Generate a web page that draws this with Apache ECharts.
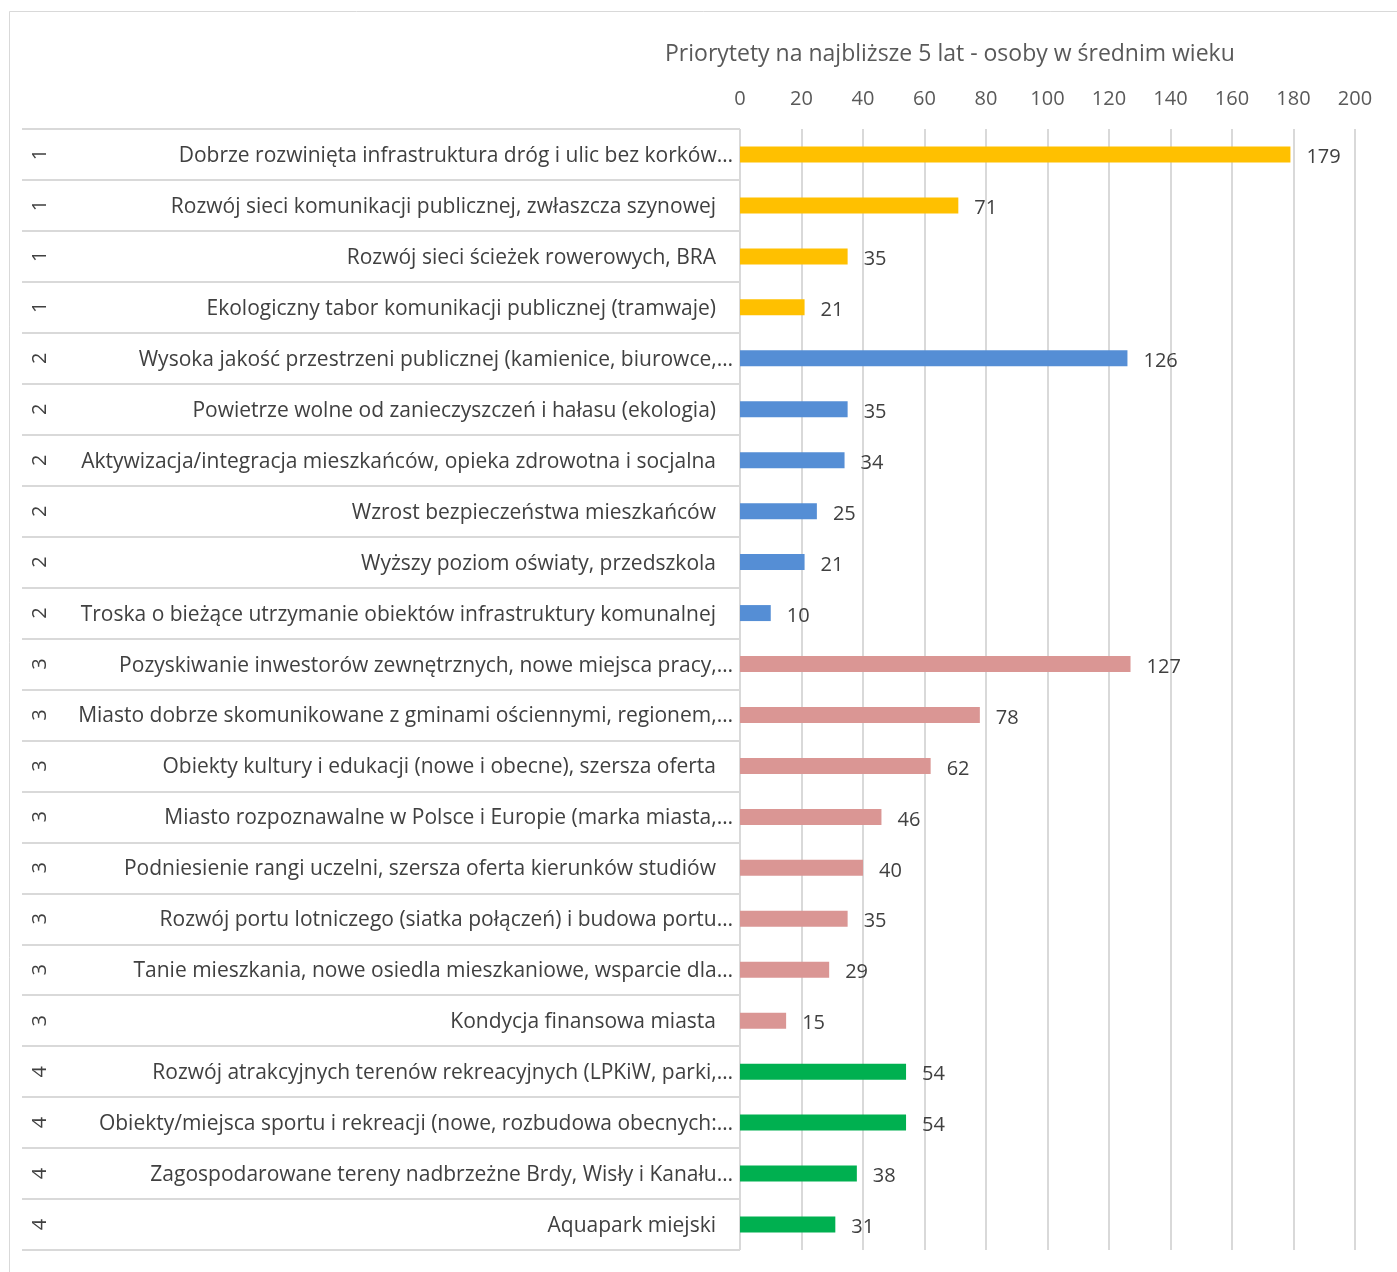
<!DOCTYPE html>
<html><head><meta charset="utf-8">
<script src="https://cdn.jsdelivr.net/npm/echarts@6/dist/echarts.min.js"></script>
<style>html,body{margin:0;padding:0;background:#fff}#c{width:1397px;height:1272px}</style>
</head><body><div id="c"></div>
<script>
const titleText = 'Priorytety na najbliższe 5 lat - osoby w średnim wieku';
const categories = [
  'Dobrze rozwinięta infrastruktura dróg i ulic bez korków…',
  'Rozwój sieci komunikacji publicznej, zwłaszcza szynowej',
  'Rozwój sieci ścieżek rowerowych, BRA',
  'Ekologiczny tabor komunikacji publicznej (tramwaje)',
  'Wysoka jakość przestrzeni publicznej (kamienice, biurowce,…',
  'Powietrze wolne od zanieczyszczeń i hałasu (ekologia)',
  'Aktywizacja/integracja mieszkańców, opieka zdrowotna i socjalna',
  'Wzrost bezpieczeństwa mieszkańców',
  'Wyższy poziom oświaty, przedszkola',
  'Troska o bieżące utrzymanie obiektów infrastruktury komunalnej',
  'Pozyskiwanie inwestorów zewnętrznych, nowe miejsca pracy,…',
  'Miasto dobrze skomunikowane z gminami ościennymi, regionem,…',
  'Obiekty kultury i edukacji (nowe i obecne), szersza oferta',
  'Miasto rozpoznawalne w Polsce i Europie (marka miasta,…',
  'Podniesienie rangi uczelni, szersza oferta kierunków studiów',
  'Rozwój portu lotniczego (siatka połączeń) i budowa portu…',
  'Tanie mieszkania, nowe osiedla mieszkaniowe, wsparcie dla…',
  'Kondycja finansowa miasta',
  'Rozwój atrakcyjnych terenów rekreacyjnych (LPKiW, parki,…',
  'Obiekty/miejsca sportu i rekreacji (nowe, rozbudowa obecnych:…',
  'Zagospodarowane tereny nadbrzeżne Brdy, Wisły i Kanału…',
  'Aquapark miejski'
];
const groups = ['1','1','1','1','2','2','2','2','2','2','3','3','3','3','3','3','3','3','4','4','4','4'];
const values = [179,71,35,21,126,35,34,25,21,10,127,78,62,46,40,35,29,15,54,54,38,31];
const xTicks = {min:0, max:200, interval:20};
const groupColors = {'1':'#FFC000','2':'#558ED5','3':'#DA9694','4':'#00B050'};

const FONT = 'Open Sans';
const chart = echarts.init(document.getElementById('c'));
chart.setOption({
  animation:false,
  backgroundColor:'#fff',
  textStyle:{fontFamily:FONT},
  graphic:[{type:'rect',shape:{x:9.5,y:11.5,width:1400,height:1280},style:{fill:'none',stroke:'#d9d9d9',lineWidth:1},silent:true}],
  title:{text:titleText,left:660,top:38,textStyle:{fontFamily:FONT,fontSize:23,fontWeight:'normal',color:'#595959'}},
  grid:[
    {left:740,right:42,top:129,bottom:22},
    {left:22,right:657,top:129,bottom:22}
  ],
  xAxis:[
    {gridIndex:0,type:'value',position:'top',min:xTicks.min,max:xTicks.max,interval:xTicks.interval,
     axisLine:{show:false},axisTick:{show:false},
     axisLabel:{margin:20,fontSize:20,color:'#595959',fontFamily:FONT},
     splitLine:{show:true,lineStyle:{color:'#d9d9d9',width:2}}},
    {gridIndex:1,type:'value',show:false,min:0,max:1}
  ],
  yAxis:[
    {gridIndex:0,type:'category',data:categories,inverse:true,
     axisLine:{show:false},axisTick:{show:false},splitLine:{show:false},
     axisLabel:{margin:7,fontFamily:FONT,fontSize:21,color:'#404040',
       formatter:function(v){return v.endsWith('…')?'{t|'+v+'}':'{n|'+v+'}';},
       rich:{t:{fontFamily:FONT,fontSize:21,color:'#404040',padding:[3,0,0,0]},n:{fontFamily:FONT,fontSize:21,color:'#404040',padding:[3,17,0,0]}}}},
    {gridIndex:1,type:'category',data:groups,inverse:true,
     axisLine:{show:false},axisTick:{show:false},
     splitLine:{show:true,lineStyle:{color:'#d9d9d9',width:2}},
     axisLabel:{inside:false,margin:-28,rotate:90,fontFamily:FONT,fontSize:20,color:'#404040'}}
  ],
  series:[{
    type:'bar',xAxisIndex:0,yAxisIndex:0,barWidth:16,
    data:values.map((v,i)=>({value:v,itemStyle:{color:groupColors[groups[i]]}})),
    label:{show:true,position:'right',distance:16,offset:[0,3],fontFamily:FONT,fontSize:20,color:'#404040'}
  }]
});
</script></body></html>
